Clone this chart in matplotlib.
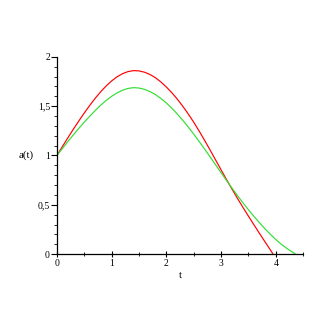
import numpy as np
import matplotlib
matplotlib.use("Agg")
import matplotlib.pyplot as plt
from matplotlib.ticker import MultipleLocator, FuncFormatter

# values
t_red = [0.0, 0.1, 0.2, 0.3, 0.4, 0.5, 0.6, 0.7, 0.8, 0.9, 1.0, 1.1, 1.2, 1.3, 1.4,
         1.5, 1.6, 1.7, 1.8, 1.9, 2.0, 2.1, 2.2, 2.3, 2.4, 2.5, 2.6, 2.7, 2.8, 2.9,
         3.0, 3.1, 3.2, 3.3, 3.4, 3.5, 3.6, 3.7, 3.8, 3.9, 3.95]
a_red = [1.000, 1.090, 1.179, 1.266, 1.350, 1.431, 1.508, 1.580, 1.646, 1.705, 1.756,
         1.798, 1.830, 1.851, 1.861, 1.858, 1.845, 1.822, 1.789, 1.746, 1.695, 1.637,
         1.572, 1.500, 1.422, 1.338, 1.248, 1.153, 1.055, 0.955, 0.855, 0.756, 0.659,
         0.565, 0.474, 0.385, 0.298, 0.212, 0.127, 0.043, 0.0]

t_green = [0.0, 0.1, 0.2, 0.3, 0.4, 0.5, 0.6, 0.7, 0.8, 0.9, 1.0, 1.1, 1.2, 1.3, 1.4,
           1.5, 1.6, 1.7, 1.8, 1.9, 2.0, 2.1, 2.2, 2.3, 2.4, 2.5, 2.6, 2.7, 2.8, 2.9,
           3.0, 3.1, 3.2, 3.3, 3.4, 3.5, 3.6, 3.7, 3.8, 3.9, 4.0, 4.1, 4.2, 4.3, 4.36]
a_green = [1.000, 1.071, 1.141, 1.209, 1.275, 1.338, 1.398, 1.456, 1.510, 1.558, 1.600,
           1.635, 1.662, 1.680, 1.688, 1.684, 1.671, 1.649, 1.618, 1.579, 1.533, 1.480,
           1.421, 1.357, 1.289, 1.217, 1.142, 1.065, 0.986, 0.906, 0.826, 0.747, 0.669,
           0.593, 0.520, 0.450, 0.383, 0.319, 0.258, 0.201, 0.148, 0.100, 0.058, 0.022,
           0.0]

plt.rcParams["font.family"] = ["Liberation Serif", "DejaVu Serif"]

fig = plt.figure(figsize=(3.27, 3.27), dpi=100)
ax = fig.add_axes([0.174, 0.223, 0.753, 0.603])

ax.plot(t_red, a_red, color="#ff0000", lw=0.85)
ax.plot(t_green, a_green, color="#33dd33", lw=0.85)

ax.set_xlim(0, 4.5)
ax.set_ylim(0, 2)
ax.spines["top"].set_visible(False)
ax.spines["right"].set_visible(False)
for s in ("left", "bottom"):
    ax.spines[s].set_linewidth(0.9)

ax.xaxis.set_major_locator(MultipleLocator(1))
ax.xaxis.set_minor_locator(MultipleLocator(0.5))
ax.yaxis.set_major_locator(MultipleLocator(0.5))
ax.yaxis.set_minor_locator(MultipleLocator(0.1))
fmt = FuncFormatter(lambda v, p: ("%g" % v).replace(".", ","))
ax.xaxis.set_major_formatter(fmt)
ax.yaxis.set_major_formatter(fmt)
ax.tick_params(axis="x", which="major", direction="inout", length=5, width=0.8,
               labelsize=7, pad=1)
ax.tick_params(axis="x", which="minor", direction="inout", length=3, width=0.6)
ax.tick_params(axis="y", which="major", direction="out", length=4, width=0.8,
               labelsize=7, pad=1)
ax.tick_params(axis="y", which="minor", direction="out", length=2.5, width=0.6)

ax.set_xlabel("t", fontsize=8, labelpad=2)
ax.set_ylabel("a(t)", fontsize=8, rotation=0, labelpad=8, va="center")

fig.savefig("out.png", dpi=100)
